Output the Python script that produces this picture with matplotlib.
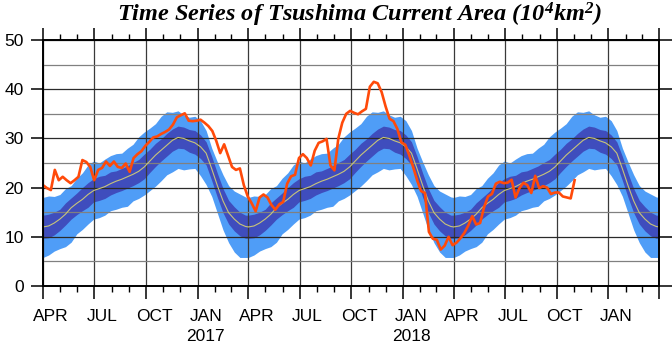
import numpy as np
import pandas as pd
import matplotlib
matplotlib.use('Agg')
import matplotlib.pyplot as plt
import matplotlib.dates as mdates
from matplotlib.ticker import FuncFormatter, MultipleLocator
from matplotlib.transforms import ScaledTranslation

plt.rcParams['font.family'] = ['Liberation Sans', 'DejaVu Sans']
plt.rcParams['mathtext.fontset'] = 'custom'
plt.rcParams['mathtext.rm'] = 'Liberation Serif:bold:italic'
plt.rcParams['mathtext.it'] = 'Liberation Serif:bold:italic'
plt.rcParams['mathtext.bf'] = 'Liberation Serif:bold:italic'

# climatology (days since Apr 1), area in 10^4 km^2
clim_day = np.arange(0, 361, 10)
clim_mean = [12.0, 12.2, 12.8, 13.6, 14.6, 15.9, 16.8, 17.6, 18.6, 19.4,
             19.8, 20.2, 20.8, 21.3, 21.7, 22.2, 22.7, 23.3, 24.2, 25.4,
             26.6, 27.6, 28.6, 29.6, 30.2, 30.0, 29.5, 29.1, 28.3, 27.0,
             23.8, 20.4, 17.3, 14.9, 13.6, 12.6, 12.1]
clim_hi2 = [18.0, 18.3, 18.2, 18.6, 19.8, 20.4, 21.9, 23.0, 24.6, 25.4,
            25.0, 25.8, 26.5, 26.9, 27.0, 28.0, 28.8, 30.3, 31.3, 32.1,
            33.0, 34.5, 35.4, 35.3, 35.6, 34.8, 34.3, 34.5, 33.6, 31.6,
            28.0, 25.2, 22.6, 20.4, 19.3, 18.7, 18.1]
clim_hi1 = [14.4, 14.6, 15.0, 15.6, 16.9, 17.9, 18.9, 20.0, 21.0, 21.8,
            22.3, 22.5, 23.2, 23.4, 23.9, 24.4, 25.1, 25.7, 26.8, 27.8,
            29.0, 29.9, 31.0, 31.9, 32.5, 32.3, 31.8, 31.6, 30.7, 29.3,
            26.3, 22.9, 19.8, 17.4, 16.1, 15.0, 14.4]
clim_lo1 = [9.7, 9.8, 10.4, 11.3, 12.4, 13.6, 14.5, 15.3, 16.0, 17.1,
            17.4, 17.8, 18.5, 19.0, 19.4, 19.9, 20.4, 21.0, 21.8, 23.1,
            24.3, 25.4, 26.4, 27.4, 28.0, 27.9, 27.2, 26.8, 25.9, 24.6,
            21.4, 18.0, 14.9, 12.6, 11.2, 10.2, 9.7]
clim_lo2 = [5.8, 6.3, 7.1, 7.6, 8.0, 8.9, 10.6, 11.5, 12.6, 13.6,
            13.9, 14.4, 15.3, 15.6, 16.0, 16.2, 17.3, 17.8, 18.5, 19.4,
            20.3, 21.4, 22.6, 23.2, 23.9, 23.6, 23.8, 23.9, 22.4, 20.6,
            18.2, 14.8, 11.4, 8.8, 6.9, 5.8, 5.8]
clim_years = [2016, 2017, 2018]
year_labels = [2017, 2018]

# weekly observations from 2016-04-01
obs_start = '2016-04-01'
obs_area = [20.5, 19.9, 19.5, 23.6, 21.5, 22.2, 21.5, 20.9, 21.5, 22.2,
            25.6, 25.2, 24.2, 21.5, 23.6, 24.0, 25.3, 24.4, 25.3, 24.2,
            24.0, 24.9, 23.2, 26.0, 26.8, 27.4, 28.5, 29.3, 30.2, 30.4,
            30.9, 31.3, 31.8, 32.8, 34.3, 34.7, 35.1, 33.6, 33.5, 33.6,
            33.8, 33.2, 32.5, 31.5, 29.5, 27.0, 28.8, 26.5, 24.2, 23.6,
            23.9, 20.5, 18.2, 16.8, 15.2, 18.0, 18.6, 18.0, 16.5, 15.5,
            16.6, 17.1, 20.8, 22.3, 22.6, 26.0, 26.8, 26.0, 24.5, 27.5,
            29.1, 29.4, 29.9, 24.5, 23.5, 30.0, 33.2, 35.0, 35.6, 35.2,
            34.9, 35.5, 36.0, 40.5, 41.5, 41.2, 39.4, 36.5, 34.0, 33.5,
            31.9, 29.2, 28.7, 26.6, 24.2, 21.5, 19.3, 18.9, 11.0, 9.6,
            9.4, 7.4, 8.2, 10.0, 8.3, 8.8, 9.7, 10.8, 12.3, 14.2,
            12.5, 12.8, 16.0, 18.2, 18.7, 20.8, 21.2, 20.9, 21.0, 21.6,
            18.0, 19.9, 21.0, 20.5, 18.9, 22.4, 19.9, 20.3, 20.0, 18.7,
            19.0, 19.0, 18.2, 18.0, 17.8, 21.5]

# repeat the climatology for each year
dates, mean, hi2, hi1, lo1, lo2 = [], [], [], [], [], []
for y in clim_years:
    dates += list(pd.Timestamp(f'{y}-04-01') + pd.to_timedelta(clim_day, unit='D'))
    mean += clim_mean; hi2 += clim_hi2; hi1 += clim_hi1; lo1 += clim_lo1; lo2 += clim_lo2
t_end = pd.Timestamp(f'{clim_years[-1] + 1}-04-01')
dates.append(t_end)
mean.append(clim_mean[0]); hi2.append(clim_hi2[0]); hi1.append(clim_hi1[0])
lo1.append(clim_lo1[0]); lo2.append(clim_lo2[0])

obs_dates = pd.date_range(obs_start, periods=len(obs_area), freq='7D')

fig = plt.figure(figsize=(6.72, 3.46), dpi=100)
ax = fig.add_axes([43 / 672, 60 / 346, 616 / 672, 246 / 346])

ax.fill_between(dates, lo2, hi2, color='#4f9df7', lw=0, zorder=1)
ax.fill_between(dates, lo1, hi1, color='#3f4dbd', lw=0, zorder=1.1)
ax.plot(dates, mean, color='#c8c47a', lw=0.8, zorder=3)
ax.plot(obs_dates, obs_area, color='#ff4a0a', lw=1.9, zorder=4)

ax.set_xlim(pd.Timestamp('2016-04-01'), t_end)
ax.set_ylim(0, 50)

ax.xaxis.set_major_locator(mdates.MonthLocator(bymonth=[1, 4, 7, 10]))
ax.xaxis.set_minor_locator(mdates.MonthLocator())

def month_label(x, pos):
    d = mdates.num2date(x)
    if d.year == t_end.year and d.month == t_end.month:
        return ''
    s = d.strftime('%b').upper()
    if d.month == 1 and d.year in year_labels:
        s += '\n' + str(d.year)
    return s

ax.xaxis.set_major_formatter(FuncFormatter(month_label))
ax.yaxis.set_major_locator(MultipleLocator(10))
ax.yaxis.set_minor_locator(MultipleLocator(5))

ax.set_axisbelow(False)
ax.grid(True, which='major', axis='x', color='#3a3a3a', lw=0.9)
ax.grid(True, which='major', axis='y', color='#2a2a2a', lw=0.9)
ax.grid(True, which='minor', axis='y', color='#808080', lw=0.9)

ax.tick_params(which='major', direction='out', length=9, width=1.1,
               top=True, right=True, labelsize=12.5, color='black')
ax.tick_params(axis='x', which='major', pad=7.5)
ax.tick_params(axis='y', which='major', pad=5)
ax.tick_params(axis='x', which='minor', direction='out', length=4.5, width=1.0,
               top=True, bottom=True)
ax.tick_params(axis='y', which='minor', length=0)
for s in ax.spines.values():
    s.set_linewidth(1.4)
    s.set_zorder(5)

# month names sit at mid-month
shift = ScaledTranslation(8 / 100, 0, fig.dpi_scale_trans)
for lbl in ax.get_xticklabels():
    lbl.set_transform(lbl.get_transform() + shift)
    lbl.set_linespacing(1.45)

fig.text(360 / 672, 1 - 15 / 346,
         r'Time Series of Tsushima Current Area (10$^{4}$km$^{2}$)',
         ha='center', va='center', fontsize=17.5, fontweight='bold',
         style='italic', family='Liberation Serif')

fig.savefig('out.png', dpi=100)
